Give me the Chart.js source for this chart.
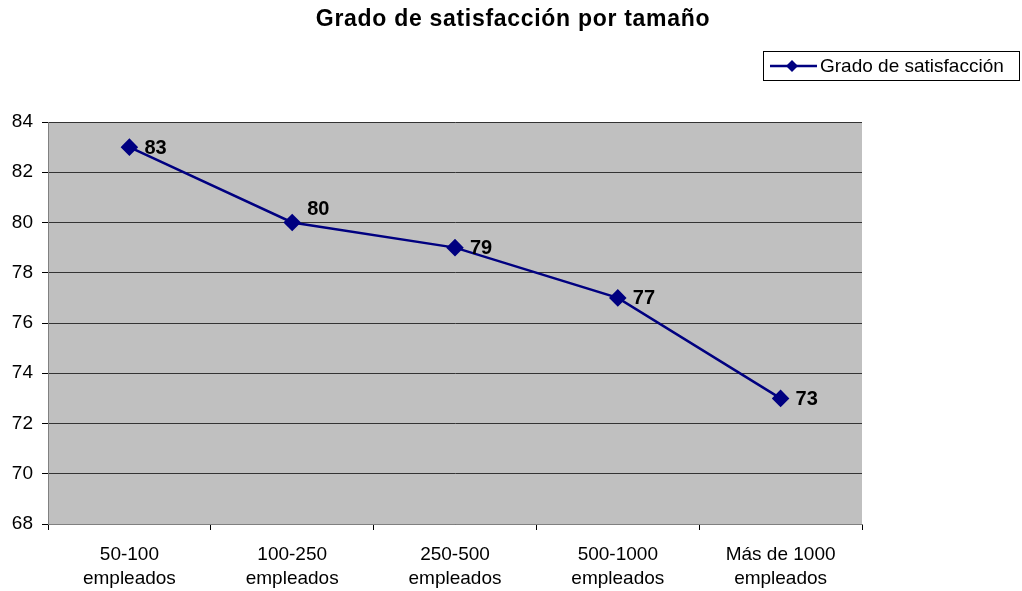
<!DOCTYPE html>
<html><head><meta charset="utf-8">
<script src="https://cdn.jsdelivr.net/npm/chart.js@4/dist/chart.umd.min.js"></script>
<style>html,body{margin:0;padding:0;background:#fff}#wrap{width:1022px;height:591px;position:relative}</style>
</head><body><div id="wrap"><canvas id="c"></canvas></div>
<script>
const categories = [["50-100","empleados"],["100-250","empleados"],["250-500","empleados"],["500-1000","empleados"],["Más de 1000","empleados"]];
const satisfaction = [83, 80, 79, 77, 73];
const seriesName = "Grado de satisfacción";
const chartTitle = "Grado de satisfacción por tamaño";
const yMin = 68, yMax = 84, yStep = 2;

const FONT = "'Liberation Sans', Arial, sans-serif";
const NAVY = "#000080";

const bgPlugin = {
  id: 'bg',
  beforeDraw(chart) {
    const {ctx, chartArea: a} = chart;
    ctx.save(); ctx.fillStyle = '#C0C0C0';
    ctx.fillRect(a.left, a.top, a.right - a.left, a.bottom - a.top);
    ctx.restore();
  }
};
const decoPlugin = {
  id: 'deco',
  afterDraw(chart) {
    const ctx = chart.ctx;
    ctx.save();
    // title
    ctx.fillStyle = '#000'; ctx.font = "bold 23px " + FONT;
    ctx.textAlign = 'center'; ctx.textBaseline = 'middle';
    if ('letterSpacing' in ctx) ctx.letterSpacing = '0.7px';
    ctx.fillText(chartTitle, 513, 20);
    if ('letterSpacing' in ctx) ctx.letterSpacing = '0px';
    // legend
    ctx.strokeStyle = '#000'; ctx.lineWidth = 1;
    ctx.strokeRect(763.5, 51.5, 256, 29);
    ctx.strokeStyle = NAVY; ctx.lineWidth = 2.5;
    ctx.beginPath(); ctx.moveTo(770, 66); ctx.lineTo(817, 66); ctx.stroke();
    ctx.fillStyle = NAVY; ctx.beginPath();
    ctx.moveTo(792, 60); ctx.lineTo(798, 66); ctx.lineTo(792, 72); ctx.lineTo(786, 66); ctx.closePath(); ctx.fill();
    ctx.fillStyle = '#000'; ctx.font = "19px " + FONT; ctx.textAlign = 'left';
    ctx.fillText(chart.data.datasets[0].label, 820, 67);
    // data labels
    const meta = chart.getDatasetMeta(0);
    ctx.font = "bold 20px " + FONT; ctx.textBaseline = 'middle';
    meta.data.forEach((pt, i) => {
      const dy = i === 1 ? -14 : 0;
      ctx.fillText(String(chart.data.datasets[0].data[i]), pt.x + 15, pt.y + dy + 1);
    });
    ctx.restore();
  }
};

new Chart(document.getElementById('c'), {
  type: 'line',
  data: {
    labels: categories,
    datasets: [{
      label: seriesName,
      data: satisfaction,
      borderColor: NAVY, backgroundColor: NAVY,
      borderWidth: 2.5, tension: 0,
      pointStyle: 'rectRot', pointRadius: 7, pointHoverRadius: 7,
      pointBackgroundColor: NAVY, pointBorderColor: NAVY
    }]
  },
  options: {
    responsive: true, maintainAspectRatio: false, animation: false,
    layout: { padding: { top: 122, right: 160, left: 0, bottom: 0 } },
    plugins: { legend: { display: false }, title: { display: false }, tooltip: { enabled: false } },
    scales: {
      x: {
        offset: true,
        grid: { offset: true, drawOnChartArea: false, drawTicks: true, tickLength: 6, color: '#000', lineWidth: 1 },
        border: { display: true, color: '#808080', width: 1 },
        ticks: { color: '#000', font: { family: FONT, size: 19, lineHeight: 1.3 }, padding: 12, maxRotation: 0, autoSkip: false },
        afterFit(s) { s.height = 67; }
      },
      y: {
        min: yMin, max: yMax,
        grid: { color: '#333333', lineWidth: 1, drawTicks: true, tickLength: 6, tickColor: '#000' },
        border: { display: true, color: '#808080', width: 1 },
        ticks: { stepSize: yStep, color: '#000', font: { family: FONT, size: 19 }, padding: 9 },
        afterFit(s) { s.width = 48; }
      }
    }
  },
  plugins: [bgPlugin, decoPlugin]
});
</script></body></html>
